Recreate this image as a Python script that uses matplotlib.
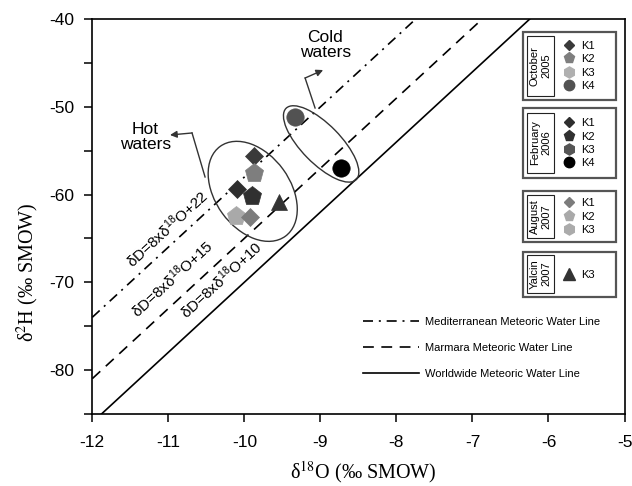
import matplotlib
matplotlib.use('Agg')
import matplotlib.pyplot as plt
import matplotlib.transforms as mtransforms
from matplotlib.lines import Line2D
from matplotlib.patches import Ellipse, Rectangle
from matplotlib.ticker import MultipleLocator

plt.rcParams['font.family'] = ['Liberation Sans', 'DejaVu Sans']
plt.rcParams['axes.unicode_minus'] = False
plt.rcParams['mathtext.fontset'] = 'custom'
plt.rcParams['mathtext.rm'] = 'Liberation Sans'
plt.rcParams['mathtext.it'] = 'Liberation Sans:italic'
plt.rcParams['mathtext.bf'] = 'Liberation Sans:bold'

# ---- data ----
campaigns = ['October\n2005', 'February\n2006', 'August\n2007', 'Yalcin\n2007']
campaign_stations = [['K1', 'K2', 'K3', 'K4'],
                     ['K1', 'K2', 'K3', 'K4'],
                     ['K1', 'K2', 'K3'],
                     ['K3']]

# samples: campaign index, station, d18O, d2H
sample_campaign = [0, 0, 0, 1, 1, 1, 2, 2, 3]
sample_station = ['K1', 'K2', 'K4', 'K1', 'K2', 'K4', 'K2', 'K1', 'K3']
sample_d18O = [-9.87, -9.87, -9.34, -10.10, -9.90, -8.73, -10.11, -9.93, -9.55]
sample_d2H = [-55.6, -57.5, -51.1, -59.4, -60.2, -57.0, -62.4, -62.6, -60.9]

# meteoric water lines: dD = slope * d18O + excess
mwl_names = ['Mediterranean Meteoric Water Line',
             'Marmara Meteoric Water Line',
             'Worldwide Meteoric Water Line']
mwl_slope = [8, 8, 8]
mwl_excess = [22, 15, 10]
mwl_x = [-12.0, -5.0]

x_lim = (-12, -5)
y_lim = (-85, -40)

# ---- styles ----
station_marker = {'K1': 'D', 'K2': 'p', 'K3': 'h', 'K4': 'o'}
plot_ms = {'D': 9.5, 'p': 14, 'h': 13, 'o': 12.5, '^': 12}
legend_ms = {'D': 5, 'p': 8, 'h': 8, 'o': 7.5, '^': 8}
shades = [{'K1': '#3a3a3a', 'K2': '#7e7e7e', 'K3': '#b0b0b0', 'K4': '#525252'},
          {'K1': '#2e2e2e', 'K2': '#303030', 'K3': '#555555', 'K4': '#000000'},
          {'K1': '#7c7c7c', 'K2': '#a9a9a9', 'K3': '#ababab'},
          {'K3': '#333333'}]
line_dashes = [(6, 3.5, 1.2, 3.5), (6.5, 4.5), None]


def marker_of(ci, st):
    return '^' if ci == 3 else station_marker[st]


W, H = 632, 486
fig = plt.figure(figsize=(W / 100, H / 100), dpi=100)
ax = fig.add_axes([92.3 / W, 1 - 413.7 / H, 532.2 / W, 394.4 / H])

# water lines
lines = []
for name, s, e, d in zip(mwl_names, mwl_slope, mwl_excess, line_dashes):
    ln, = ax.plot(mwl_x, [s * x + e for x in mwl_x], color='black', lw=1.2,
                  label=name)
    if d is not None:
        ln.set_dashes(d)
    lines.append(ln)

# samples
for ci, st, x, y in zip(sample_campaign, sample_station, sample_d18O, sample_d2H):
    m = marker_of(ci, st)
    c = shades[ci][st]
    ax.plot([x], [y], ls='none', marker=m, ms=plot_ms[m], color=c, mec=c,
            mew=0.5, zorder=4)

ax.set_xlim(*x_lim)
ax.set_ylim(*y_lim)
ax.xaxis.set_major_locator(MultipleLocator(1))
ax.yaxis.set_major_locator(MultipleLocator(10))
ax.yaxis.set_minor_locator(MultipleLocator(5))
ax.tick_params(which='both', direction='out', length=6, width=1.1,
               labelsize=12.5)
ax.tick_params(axis='x', pad=9)
ax.tick_params(axis='y', pad=7)
for sp in ax.spines.values():
    sp.set_linewidth(1.2)

ax.set_xlabel('δ$^{18}$O (‰ SMOW)', fontfamily='Liberation Serif',
              fontsize=14.5, math_fontfamily='stix')
ax.set_ylabel('δ$^{2}$H (‰ SMOW)', fontfamily='Liberation Serif',
              fontsize=14.5, math_fontfamily='stix')
ax.xaxis.set_label_coords(0.509, -0.114)
ax.yaxis.set_label_coords(-0.096, 0.359)

# line equations
rot = 42.7
for txt, (x, y) in zip(['δD=8xδ$^{18}$O+22', 'δD=8xδ$^{18}$O+15',
                        'δD=8xδ$^{18}$O+10'],
                       [(-11.02, -63.9), (-10.955, -69.6), (-10.31, -69.75)]):
    ax.text(x, y, txt, fontsize=11, rotation=rot, rotation_mode='anchor',
            ha='center', va='center')

# ellipses around the groups (sizes in inches)
for (cx, cy), w, h, a in [((-9.89, -59.63), 1.11, 0.75, -54),
                          ((-8.99, -54.22), 1.00, 0.39, -45.5)]:
    tr = fig.dpi_scale_trans + mtransforms.ScaledTranslation(cx, cy, ax.transData)
    ax.add_patch(Ellipse((0, 0), w, h, angle=a, transform=tr, fill=False,
                         ec='#333333', lw=1.0, zorder=3))

# group annotations
ax.text(-11.305, -53.43, 'Hot\nwaters', fontsize=12.5, ha='center', va='center',
        linespacing=1.05)
ax.plot([-10.517, -10.688], [-57.99, -52.97], color='#333333', lw=1.0)
ax.annotate('', xy=(-10.978, -53.20), xytext=(-10.688, -52.97),
            arrowprops=dict(arrowstyle='-|>', color='#333333', lw=1.0,
                            mutation_scale=10, shrinkA=0, shrinkB=0))
ax.text(-8.934, -42.93, 'Cold\nwaters', fontsize=12.5, ha='center', va='center',
        linespacing=1.05)
ax.plot([-9.070, -9.201], [-50.12, -46.70], color='#333333', lw=1.0)
ax.annotate('', xy=(-8.964, -45.79), xytext=(-9.201, -46.70),
            arrowprops=dict(arrowstyle='-|>', color='#333333', lw=1.0,
                            mutation_scale=10, shrinkA=0, shrinkB=0))

# line legend
ax.legend(handles=lines, loc='upper left', bbox_to_anchor=(363 / W, 1 - 317 / H),
          bbox_transform=fig.transFigure, frameon=False, fontsize=8,
          handlelength=5, handletextpad=0.6, labelspacing=1.45, borderpad=0,
          borderaxespad=0)

# campaign legend boxes (pixel positions in the figure)
outer = [(522.7, 31.7, 616, 100), (522.7, 108.3, 616, 178.3),
         (522.7, 190.7, 616, 242.3), (522.7, 251.7, 616, 297.3)]
inner = [(526.7, 36, 554.3, 96), (526.7, 113, 554.3, 173),
         (526.7, 195, 554.3, 238), (526.7, 255, 554.3, 293)]
for ci, name in enumerate(campaigns):
    x0, y0, x1, y1 = outer[ci]
    fig.add_artist(Rectangle((x0 / W, 1 - y1 / H), (x1 - x0) / W, (y1 - y0) / H,
                             transform=fig.transFigure, fc='white', ec='#555555',
                             lw=1.6, zorder=3))
    x0, y0, x1, y1 = inner[ci]
    fig.add_artist(Rectangle((x0 / W, 1 - y1 / H), (x1 - x0) / W, (y1 - y0) / H,
                             transform=fig.transFigure, fc='white', ec='#222222',
                             lw=0.8, zorder=4))
    fig.text((x0 + x1) / 2 / W, 1 - (y0 + y1) / 2 / H, name, rotation=90,
             ha='center', va='center', fontsize=8, linespacing=1.2, zorder=5)
    handles = []
    for st in campaign_stations[ci]:
        m = marker_of(ci, st)
        c = shades[ci][st]
        handles.append(Line2D([], [], ls='none', marker=m, ms=legend_ms[m],
                              color=c, mec=c))
    ycen = (outer[ci][1] + outer[ci][3]) / 2
    fig.legend(handles, campaign_stations[ci], loc='center left',
               bbox_to_anchor=(563.8 / W, 1 - ycen / H), frameon=False,
               fontsize=8, handlelength=1.0, handletextpad=0.56,
               labelspacing=0.3, borderpad=0, borderaxespad=0)

fig.savefig('out.png', dpi=100)
